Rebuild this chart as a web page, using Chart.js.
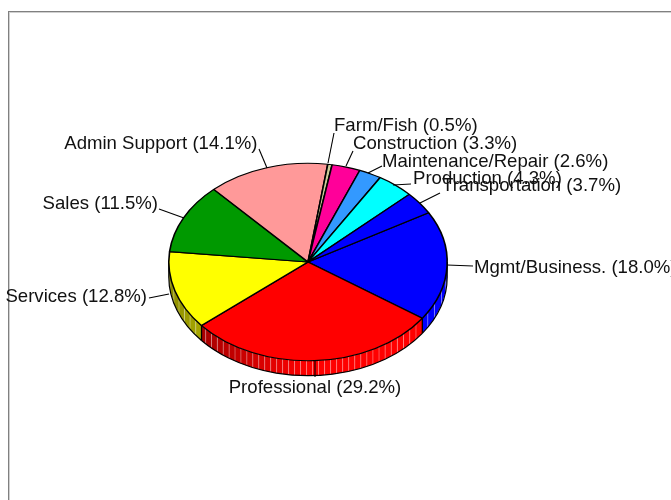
<!DOCTYPE html>
<html>
<head>
<meta charset="utf-8">
<script src="https://cdn.jsdelivr.net/npm/chart.js@4/dist/chart.umd.min.js"></script>
<style>
html,body{margin:0;padding:0;background:#fff;overflow:hidden}
#frame{position:absolute;left:8px;top:11px;right:-5px;bottom:-5px;border-left:1px solid #808080;border-top:1px solid #808080;box-shadow:inset 1px 1px 0 #d0d0d0}
canvas{position:absolute;left:0;top:0}
</style>
</head>
<body>
<div id="frame"></div>
<canvas id="c" width="671" height="500"></canvas>
<script>
const categories = ["Mgmt/Business.", "Professional", "Services", "Sales", "Admin Support", "Farm/Fish", "Construction", "Maintenance/Repair", "Production", "Transportation"];
const shares = [18.0, 29.2, 12.8, 11.5, 14.1, 0.5, 3.3, 2.6, 4.3, 3.7];
const sliceColors = ["#0000ff", "#ff0000", "#ffff00", "#009900", "#ff9999", "#cccc99", "#ff0099", "#3399ff", "#00ffff", "#0000ff"];

// Label placement: text x, baseline y, align, leader start x/y, leader end x/y
const labelLayout = [
  [474, 273, "left", 447, 265, 473, 266],
  [315, 393, "center", 315, 360, 315, 377],
  [147, 302, "right", 169, 294, 149, 298],
  [158, 209, "right", 184, 218, 159, 209],
  [257.5, 149, "right", 267, 168, 259, 149],
  [334, 131, "left", 328, 163, 334, 133],
  [353, 149, "left", 346, 166, 353, 151],
  [382, 167, "left", 368, 173, 382, 166],
  [413, 184, "left", 393, 185, 411, 184],
  [442, 191, "left", 420, 203, 440, 193]
];
const squash = 0.709, depth = 15, seamGap = 6;

function shadeColor(hex, f) {
  const n = parseInt(hex.slice(1), 16);
  return `rgb(${Math.round((n >> 16 & 255) * f)},${Math.round((n >> 8 & 255) * f)},${Math.round((n & 255) * f)})`;
}
function wallRanges(a0, a1) {
  const out = [], T = 2 * Math.PI;
  for (const k of [-1, 0, 1]) {
    const s = Math.max(a0, k * T), e = Math.min(a1, k * T + Math.PI);
    if (e > s) out.push([s, e]);
  }
  return out;
}
const pie3d = {
  id: "pie3d",
  beforeDatasetsDraw(chart) {
    const ctx = chart.ctx, arcs = chart.getDatasetMeta(0).data;
    const cx = arcs[0].x, cy = arcs[0].y, R = arcs[0].outerRadius, r = R * squash;
    const pt = (a, d) => [cx + R * Math.cos(a), cy + r * Math.sin(a) + d];
    ctx.save();
    arcs.forEach((arc, i) => {
      wallRanges(arc.startAngle, arc.endAngle).forEach(([s, e]) => {
        let a = s;
        while (a < e) {
          const b = Math.min(a + seamGap / (R * Math.max(Math.abs(Math.sin(a)), 0.3)), e);
          const u = Math.cos((a + b) / 2);
          const shade = Math.min(1, 1 + 0.45 * u);
          ctx.beginPath();
          let p = pt(a, 0); ctx.moveTo(p[0], p[1]);
          p = pt(b, 0); ctx.lineTo(p[0], p[1]);
          p = pt(b, depth); ctx.lineTo(p[0], p[1]);
          p = pt(a, depth); ctx.lineTo(p[0], p[1]);
          ctx.closePath();
          ctx.fillStyle = shadeColor(sliceColors[i], shade);
          ctx.fill();
          if (a > s) {
            const q0 = pt(a, 0), q1 = pt(a, depth);
            ctx.beginPath(); ctx.moveTo(q0[0], q0[1]); ctx.lineTo(q1[0], q1[1]);
            ctx.strokeStyle = "rgba(255,255,255,0.3)"; ctx.lineWidth = 1; ctx.stroke();
          }
          a = b;
        }
        ctx.strokeStyle = "#000"; ctx.lineWidth = 1.2;
        for (const a2 of [s, e]) {
          const q0 = pt(a2, 0), q1 = pt(a2, depth);
          ctx.beginPath(); ctx.moveTo(q0[0], q0[1]); ctx.lineTo(q1[0], q1[1]); ctx.stroke();
        }
        ctx.beginPath();
        ctx.ellipse(cx, cy + depth, R, r, 0, s, e);
        ctx.stroke();
      });
    });
    ctx.restore();
    ctx.save();
    ctx.translate(cx, cy); ctx.scale(1, squash); ctx.translate(-cx, -cy);
  },
  afterDatasetsDraw(chart) {
    const ctx = chart.ctx, arcs = chart.getDatasetMeta(0).data;
    ctx.restore();
    ctx.save();
    ctx.font = '18.6px "Liberation Sans", Arial, sans-serif';
    ctx.textBaseline = "alphabetic";
    arcs.forEach((arc, i) => {
      const L = labelLayout[i];
      ctx.beginPath();
      ctx.moveTo(L[3], L[4]);
      ctx.lineTo(L[5], L[6]);
      ctx.strokeStyle = "#000"; ctx.lineWidth = 1.1; ctx.stroke();
      ctx.fillStyle = "#111";
      ctx.textAlign = L[2];
      ctx.fillText(`${categories[i]} (${shares[i].toFixed(1)}%)`, L[0], L[1]);
    });
    ctx.restore();
  }
};
new Chart(document.getElementById("c"), {
  type: "pie",
  data: { labels: categories, datasets: [{ data: shares, backgroundColor: sliceColors, borderColor: "#000", borderWidth: 1.6, borderAlign: "center", hoverOffset: 0 }] },
  options: {
    responsive: false, animation: false, rotation: 60,
    layout: { padding: { left: 168, right: 223, top: 122, bottom: 98 } },
    plugins: { legend: { display: false }, tooltip: { enabled: false }, title: { display: false } }
  },
  plugins: [pie3d]
});
</script>
</body>
</html>
